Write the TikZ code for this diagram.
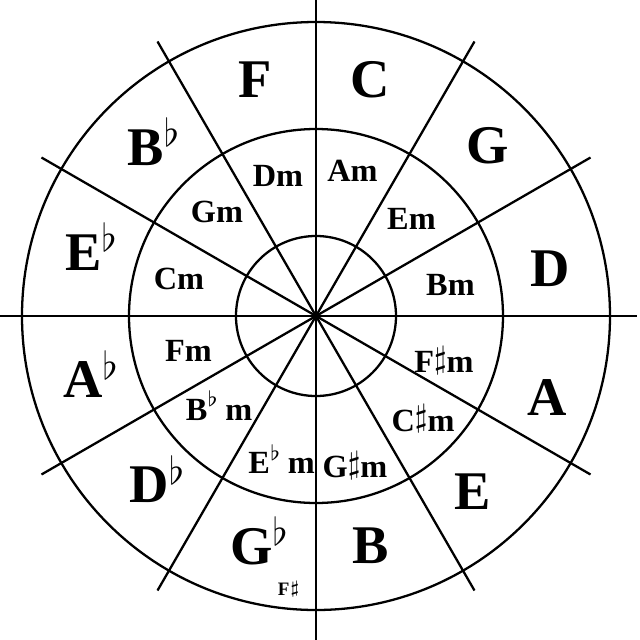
\documentclass[tikz,border=0pt]{standalone}
\usepackage{fontspec}
\setmainfont{Liberation Serif}
\newcommand{\flatup}{\smash{$^\flat$}}
\newcommand{\sharpup}{\smash{\raisebox{0.3ex}{$\sharp$}}}
\begin{document}
\begin{tikzpicture}[
  line width=0.65pt,
  major/.style={font=\fontsize{15.5}{18}\selectfont\bfseries, inner sep=0pt},
  minor/.style={font=\fontsize{9.2}{11}\selectfont\bfseries, inner sep=0pt},
  enh/.style={font=\fontsize{5.4}{6}\selectfont\bfseries, inner sep=0pt}
]
\useasboundingbox (-3.16,-3.24) rectangle (3.24,3.16);
\coordinate (c) at (0,0);

% rings
\draw (c) circle (2.94);
\draw (c) circle (1.87);
\draw (c) circle (0.80);

% spokes
\draw (0,3.16) -- (0,-3.24);
\draw (-3.16,0) -- (3.21,0);
\foreach \a in {30,60,120,150,210,240,300,330}
  \draw (c) -- (\a:3.17);

% major keys
\node[major] (kC)  at (0.54,2.365)   {C};
\node[major] (kG)  at (1.715,1.70)   {G};
\node[major] (kD)  at (2.34,0.475)   {D};
\node[major] (kA)  at (2.31,-0.82)   {A};
\node[major] (kE)  at (1.57,-1.755)  {E};
\node[major] (kB)  at (0.55,-2.30)   {B};
\node[major] (kGb) at (-0.645,-2.305) {G\rlap{\flatup}};
\node[major] (kDb) at (-1.665,-1.69) {D\rlap{\flatup}};
\node[major] (kAb) at (-2.33,-0.635) {A\rlap{\flatup}};
\node[major] (kEb) at (-2.325,0.635) {E\rlap{\flatup}};
\node[major] (kBb) at (-1.70,1.685)  {B\rlap{\flatup}};
\node[major] (kF)  at (-0.605,2.36)  {F};
\node[enh]   (kFs) at (-0.27,-2.735) {F\sharpup};

% minor keys
\node[minor] (mA)  at (0.365,1.455)  {Am};
\node[minor] (mE)  at (0.955,0.97)   {Em};
\node[minor] (mB)  at (1.345,0.315)  {Bm};
\node[minor] (mFs) at (1.28,-0.46)   {F\sharpup m};
\node[minor] (mCs) at (1.07,-1.045)  {C\sharpup m};
\node[minor] (mGs) at (0.39,-1.51)   {G\sharpup m};
\node[minor] (mEb) at (-0.345,-1.47) {E\flatup\,m};
\node[minor] (mBb) at (-0.97,-0.935) {B\flatup\,m};
\node[minor] (mF)  at (-1.275,-0.35) {Fm};
\node[minor] (mC)  at (-1.37,0.37)   {Cm};
\node[minor] (mG)  at (-0.99,1.04)   {Gm};
\node[minor] (mD)  at (-0.38,1.40)   {Dm};
\end{tikzpicture}
\end{document}
